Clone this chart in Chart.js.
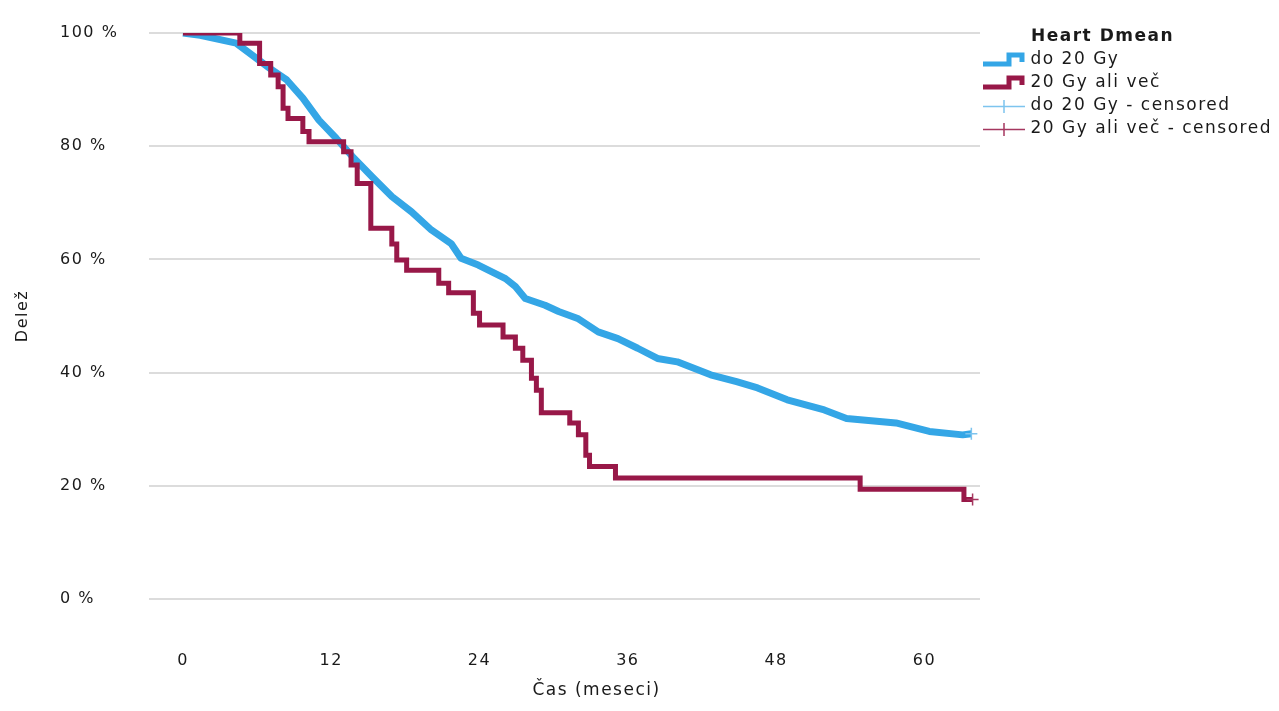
<!DOCTYPE html>
<html>
<head>
<meta charset="utf-8">
<script src="https://cdn.jsdelivr.net/npm/chart.js@4.4.1/dist/chart.umd.min.js"></script>
<style>
  html, body { margin: 0; padding: 0; background: #ffffff; }
  #wrap { width: 1279px; height: 711px; }
</style>
</head>
<body>
<div id="wrap"><canvas id="c" width="1279" height="711"></canvas></div>
<script>
// ---- data ----
const tickMonths = [0, 12, 24, 36, 48, 60];
const yTicks = [0, 20, 40, 60, 80, 100];
const legendTitle = 'Heart Dmean';
const seriesNames = ['do 20 Gy', '20 Gy ali več', 'do 20 Gy - censored', '20 Gy ali več - censored'];

// "do 20 Gy" (months, survival %)
const lowMonths = [0, 1.4, 4.3, 5.6, 7.0, 8.4, 9.7, 11.0, 12.4, 13.7, 15.3, 16.9, 18.5, 20.1, 21.7, 22.5, 23.9, 26.1, 26.9, 27.7, 29.3, 30.4, 32.0, 33.6, 35.2, 36.8, 38.4, 40.0, 42.7, 44.8, 46.5, 48.9, 51.9, 53.7, 57.7, 60.4, 63.1, 63.8];
const lowSurv   = [100, 99.6, 98.2, 96.1, 93.8, 91.7, 88.5, 84.6, 81.4, 78.2, 74.6, 71.1, 68.4, 65.2, 62.8, 60.2, 59.0, 56.6, 55.2, 53.1, 51.9, 50.8, 49.5, 47.2, 46.0, 44.3, 42.5, 41.9, 39.6, 38.4, 37.3, 35.2, 33.4, 31.9, 31.1, 29.6, 29.0, 29.2];

// "20 Gy ali več" (months, survival %) – step function
const highMonths = [0, 4.6, 6.2, 7.1, 7.7, 8.1, 8.5, 9.7, 10.2, 13.0, 13.6, 14.1, 15.2, 16.9, 17.3, 18.1, 20.7, 21.5, 23.5, 24.0, 25.9, 26.9, 27.5, 28.2, 28.6, 29.0, 31.3, 32.0, 32.6, 32.9, 35.0, 54.8, 63.2, 63.9];
const highSurv   = [100, 98.2, 94.6, 92.6, 90.5, 86.7, 84.9, 82.6, 80.8, 79.0, 76.7, 73.4, 65.5, 62.7, 59.9, 58.1, 55.8, 54.1, 50.5, 48.4, 46.3, 44.3, 42.2, 39.0, 36.9, 32.9, 31.1, 29.0, 25.4, 23.4, 21.4, 19.4, 17.6, 17.6];

// censored marks
const lowCensMonths = [63.8];
const lowCensSurv   = [29.2];
const highCensMonths = [63.9];
const highCensSurv   = [17.6];

// ---- styling ----
const BLUE = 'rgb(52,166,230)';
const RED = 'rgb(152,24,72)';
const BLUE_C = 'rgb(125,196,238)';
const RED_C = 'rgb(165,55,95)';
const FONT = "'DejaVu Sans', 'Liberation Sans', sans-serif";
const TXT = '#1a1a1a';

const toXY = (xs, ys) => xs.map((x, i) => ({ x: x, y: ys[i] }));

function stepIcon(color) {
  const c = document.createElement('canvas');
  c.width = 42; c.height = 18;
  const g = c.getContext('2d');
  g.strokeStyle = color; g.lineWidth = 5; g.lineJoin = 'miter';
  g.beginPath();
  g.moveTo(0, 13); g.lineTo(26, 13); g.lineTo(26, 4); g.lineTo(39, 4); g.lineTo(39, 11);
  g.stroke();
  return c;
}
function censIcon(color) {
  const c = document.createElement('canvas');
  c.width = 42; c.height = 18;
  const g = c.getContext('2d');
  g.strokeStyle = color; g.lineWidth = 1.5;
  g.beginPath();
  g.moveTo(0, 9.5); g.lineTo(42, 9.5);
  g.moveTo(21, 3); g.lineTo(21, 16);
  g.stroke();
  return c;
}
const legendIcons = [stepIcon(BLUE), stepIcon(RED), censIcon(BLUE_C), censIcon(RED_C)];

function shiftMethod(obj, name, dx, dy) {
  if (typeof obj[name] !== 'function') return;
  const f = obj[name];
  obj[name] = function () {
    this.ctx.save(); this.ctx.translate(dx, dy);
    const r = f.apply(this, arguments);
    this.ctx.restore();
    return r;
  };
}

const tweaks = {
  id: 'tweaks',
  beforeUpdate(chart) {
    if ('letterSpacing' in chart.ctx) chart.ctx.letterSpacing = '1.5px';
  },
  afterInit(chart) {
    const lg = chart.legend;
    const fit0 = lg.fit;
    lg.fit = function () { fit0.call(this); this.width = 299; };
    shiftMethod(lg, 'draw', 0, -4.5);
    shiftMethod(lg, '_drawTitle', 51, 0);
    shiftMethod(lg, 'drawTitle', 51, 0);
  },
  beforeDraw(chart) {
    const sx = chart.scales.x, sy = chart.scales.y;
    if (sx && !sx.__patched) { shiftMethod(sx, 'drawTitle', 32, 0); sx.__patched = true; }
    if (sy && !sy.__patched) { shiftMethod(sy, 'drawTitle', -51, 0); sy.__patched = true; }
  }
};

new Chart(document.getElementById('c'), {
  type: 'line',
  data: {
    datasets: [
      { label: seriesNames[0], data: toXY(lowMonths, lowSurv), borderColor: BLUE, backgroundColor: BLUE,
        borderWidth: 7, pointRadius: 0, tension: 0, stepped: false, order: 3, borderJoinStyle: 'round', borderCapStyle: 'butt' },
      { label: seriesNames[1], data: toXY(highMonths, highSurv), borderColor: RED, backgroundColor: RED,
        borderWidth: 5, pointRadius: 0, stepped: 'before', order: 2, borderJoinStyle: 'miter' },
      { label: seriesNames[2], data: toXY(lowCensMonths, lowCensSurv), showLine: false, borderColor: BLUE_C, backgroundColor: BLUE_C,
        pointStyle: 'cross', pointRadius: 6, pointBorderWidth: 1.5, order: 1 },
      { label: seriesNames[3], data: toXY(highCensMonths, highCensSurv), showLine: false, borderColor: RED_C, backgroundColor: RED_C,
        pointStyle: 'cross', pointRadius: 6, pointBorderWidth: 1.5, order: 0 }
    ]
  },
  options: {
    responsive: false,
    animation: false,
    devicePixelRatio: 1,
    layout: { padding: { top: 33, left: 60, right: 0, bottom: 8 } },
    plugins: {
      tooltip: { enabled: false },
      legend: {
        position: 'right',
        align: 'start',
        title: { display: true, text: legendTitle, position: 'start', color: TXT,
                 font: { family: FONT, size: 17, weight: 'bold', lineHeight: 1 }, padding: { top: 0, bottom: 0 } },
        labels: {
          usePointStyle: true,
          pointStyleWidth: 36,
          padding: 6,
          color: TXT,
          font: { family: FONT, size: 17 },
          sort: (a, b) => a.datasetIndex - b.datasetIndex,
          generateLabels(chart) {
            const items = Chart.defaults.plugins.legend.labels.generateLabels(chart);
            items.forEach(it => { it.pointStyle = legendIcons[it.datasetIndex]; it.lineWidth = 0; });
            return items;
          }
        }
      }
    },
    scales: {
      x: {
        type: 'linear',
        min: -2.75,
        max: 64.5,
        afterBuildTicks: s => { s.ticks = tickMonths.map(v => ({ value: v })); },
        afterFit: s => { s.height = 104; },
        grid: { display: false, drawTicks: false },
        border: { display: false },
        ticks: { padding: 52, color: TXT, font: { family: FONT, size: 16 }, maxRotation: 0, callback: v => String(v) },
        title: { display: true, text: 'Čas (meseci)', color: TXT, font: { family: FONT, size: 17 }, padding: { top: 4, bottom: 2 } }
      },
      y: {
        min: 0,
        max: 100,
        afterBuildTicks: s => { s.ticks = yTicks.map(v => ({ value: v })); },
        afterFit: s => { s.width = 89; s.paddingTop = 0; s.paddingBottom = 0; },
        grid: { color: '#dcdcdc', lineWidth: 2, drawTicks: false },
        border: { display: false },
        ticks: { padding: 20, crossAlign: 'far', color: TXT, font: { family: FONT, size: 16 }, callback: v => v + ' %' },
        title: { display: true, text: 'Delež', color: TXT, font: { family: FONT, size: 16 }, padding: { top: 4, bottom: 4 } }
      }
    }
  },
  plugins: [tweaks]
});
</script>
</body>
</html>
